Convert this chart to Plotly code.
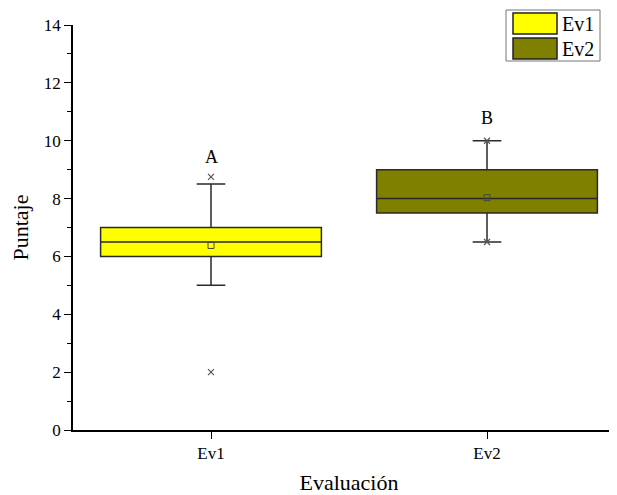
import plotly.graph_objects as go

categories = ["Ev1", "Ev2"]
q1 = [6.0, 7.5]
median = [6.5, 8.0]
q3 = [7.0, 9.0]
lower_whisker = [5.0, 6.5]
upper_whisker = [8.5, 10.0]
means = [6.38, 8.03]
minimum = [2.0, 6.5]
maximum = [8.75, 10.0]
group_letters = ["A", "B"]
letter_y = [9.45, 10.8]
fill_colors = ["#FFFF00", "#808000"]

FONT = "Liberation Serif, Times New Roman, serif"

fig = go.Figure()
for i, c in enumerate(categories):
    fig.add_trace(go.Box(
        x=[c], q1=[q1[i]], median=[median[i]], q3=[q3[i]],
        lowerfence=[lower_whisker[i]], upperfence=[upper_whisker[i]],
        fillcolor=fill_colors[i], line=dict(color="#2a2a2a", width=1.5),
        width=0.8, whiskerwidth=0.13, boxpoints=False, name=c, showlegend=False,
    ))

fig.add_trace(go.Scatter(
    x=categories + categories, y=minimum + maximum, mode="markers",
    marker=dict(symbol="x-thin", size=6, line=dict(color="#555555", width=1.2)),
    showlegend=False, hoverinfo="skip"))
fig.add_trace(go.Scatter(
    x=categories, y=means, mode="markers",
    marker=dict(symbol="square-open", size=6, color="#444444", line=dict(width=1)),
    showlegend=False, hoverinfo="skip"))

for c, t, yy in zip(categories, group_letters, letter_y):
    fig.add_annotation(x=c, y=yy, text=t, showarrow=False,
                       font=dict(family=FONT, size=18, color="black"))

# page body has an 8px margin; compensate so the chart lands where the reference is
OFF = 8
W, H = 617, 495 - OFF
ml, mr, mt, mb = 73 - OFF, 0, 25 - OFF, 65
pw, ph = W - ml - mr, H - mt - mb

def px2paper(x, y):
    # x, y in reference-image pixels
    x -= OFF
    y -= OFF
    return (x - ml) / pw, 1 - (y - mt) / ph

lx0, lx1 = 506, 600
ly0, ly1 = 10, 61
x0, y0 = px2paper(lx0, ly0)
x1, y1 = px2paper(lx1, ly1)
fig.add_shape(type="rect", xref="paper", yref="paper", x0=x0, x1=x1, y0=y1, y1=y0,
              line=dict(color="#777777", width=1), fillcolor="white")
for i, c in enumerate(categories):
    top = 13 + i * 25
    sx0, sy0 = px2paper(513, top)
    sx1, sy1 = px2paper(557, top + 21)
    fig.add_shape(type="rect", xref="paper", yref="paper", x0=sx0, x1=sx1, y0=sy1, y1=sy0,
                  line=dict(color="#222222", width=1.5), fillcolor=fill_colors[i])
    tx, ty = px2paper(560, top + 11)
    fig.add_annotation(xref="paper", yref="paper", x=tx, y=ty, text=c, showarrow=False,
                       xanchor="left", yanchor="middle",
                       font=dict(family=FONT, size=20, color="black"))

fig.update_layout(
    width=W, height=H,
    margin=dict(l=ml, r=mr, t=mt, b=mb, autoexpand=False),
    plot_bgcolor="white", paper_bgcolor="white",
    font=dict(family=FONT, size=16, color="black"),
    xaxis=dict(
        type="category", range=[-0.5, 1.5], showgrid=False, zeroline=False,
        showline=True, linecolor="black", linewidth=1.5, automargin=False,
        ticks="outside", ticklen=7, tickwidth=1.2, tickcolor="black",
        tickfont=dict(family=FONT, size=17, color="black"),
        title=dict(text="Evaluación", font=dict(family=FONT, size=22), standoff=12),
    ),
    yaxis=dict(
        range=[0, 14], dtick=2, showgrid=False, zeroline=False,
        showline=True, linecolor="black", linewidth=1.5, automargin=False,
        ticks="outside", ticklen=7, tickwidth=1.2, tickcolor="black",
        tickfont=dict(family=FONT, size=17, color="black"),
        minor=dict(dtick=1, ticks="outside", ticklen=4, tickwidth=1.2, tickcolor="black"),
        title=dict(text="Puntaje", font=dict(family=FONT, size=22), standoff=16),
    ),
)

fig.write_html("out.html")
